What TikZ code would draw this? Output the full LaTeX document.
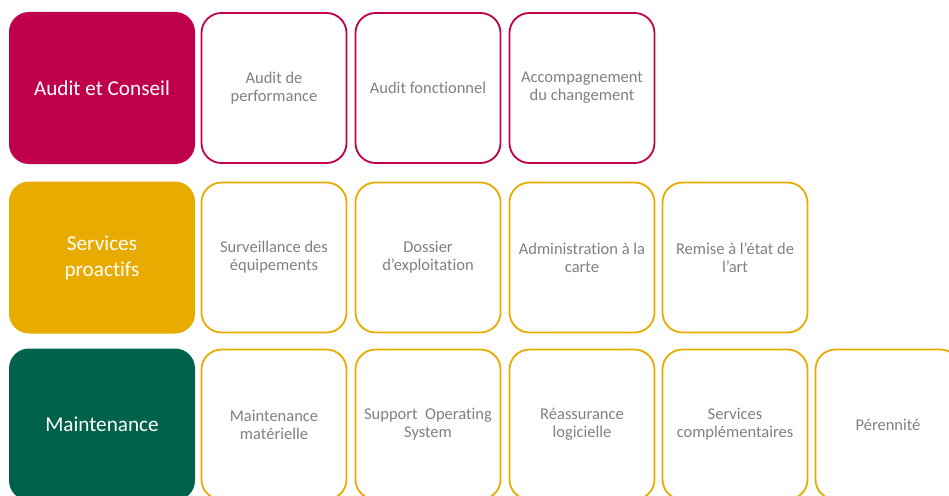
\documentclass[tikz,border=0pt]{standalone}
\usepackage{fontspec}
\setmainfont[Ligatures={NoCommon}]{Carlito}
\definecolor{crim}{RGB}{192,0,74}
\definecolor{gold}{RGB}{232,172,0}
\definecolor{dgreen}{RGB}{0,98,74}
\definecolor{txtgray}{RGB}{128,128,128}
\tikzset{
  mainbox/.style={rounded corners=20pt, minimum width=186pt, minimum height=152pt, inner sep=0pt, text=white, align=center, font=\fontsize{21.2}{26}\selectfont},
  subbox/.style={rounded corners=20pt, line width=1.8pt, fill=white, minimum width=145pt, minimum height=150pt, inner sep=0pt, text=txtgray, align=center, font=\fontsize{16.5}{18}\selectfont},
}
\begin{document}
\begin{tikzpicture}[x=1pt,y=-1pt]
\useasboundingbox (0,0) rectangle (949,495);
\clip (0,0) rectangle (949,495);
% row 1
\node[mainbox, fill=crim] (m1) at (102,88) {Audit et Conseil};
\node[subbox, draw=crim] (a1) at (274,88) {Audit de\\performance};
\node[subbox, draw=crim] (a2) at (428,88) {Audit fonctionnel};
\node[subbox, draw=crim] (a3) at (582,88) {Accompagnement\\du changement};
% row 2
\node[mainbox, fill=gold] (m2) at (102,257.5) {Services\\proactifs};
\node[subbox, draw=gold] (b1) at (274,257.5) {Surveillance des\\équipements};
\node[subbox, draw=gold] (b2) at (428,257.5) {Dossier\\d’exploitation};
\node[subbox, draw=gold] (b3) at (582,257.5) {Administration à la\\carte};
\node[subbox, draw=gold] (b4) at (735,257.5) {Remise à l’état de\\l’art};
% row 3
\node[mainbox, fill=dgreen] (m3) at (102,424.5) {Maintenance};
\node[subbox, draw=gold] (c1) at (274,424.5) {Maintenance\\matérielle};
\node[subbox, draw=gold] (c2) at (428,424.5) {Support~ Operating\\System};
\node[subbox, draw=gold] (c3) at (582,424.5) {Réassurance\\logicielle};
\node[subbox, draw=gold] (c4) at (735,424.5) {Services\\complémentaires};
\node[subbox, draw=gold] (c5) at (888,424.5) {Pérennité};
\end{tikzpicture}
\end{document}
